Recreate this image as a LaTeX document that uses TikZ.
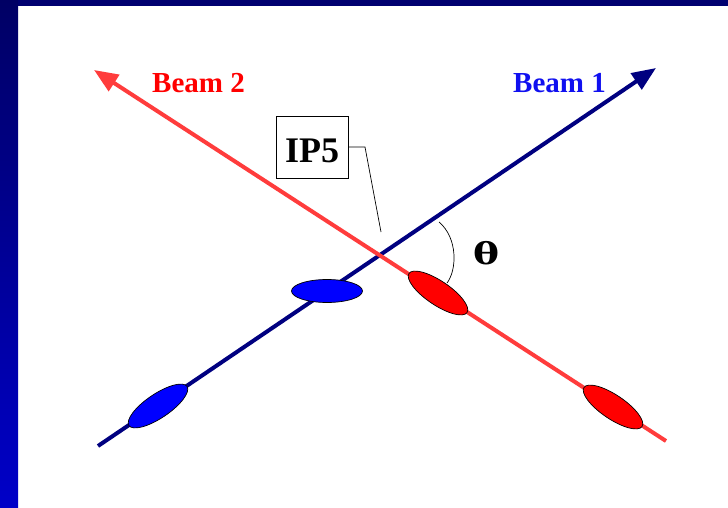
\documentclass[tikz,border=0pt]{standalone}
\usepackage{fontspec}
\setmainfont{Liberation Serif}
\newfontfamily\thetafont{DejaVu Serif}
\usetikzlibrary{shapes.geometric,arrows.meta}
\definecolor{navybeam}{RGB}{0,0,128}
\definecolor{redbeam}{RGB}{255,60,60}
\definecolor{barnavy}{RGB}{0,0,112}
\definecolor{bartop}{RGB}{0,0,100}
\definecolor{barbot}{RGB}{0,0,200}
\definecolor{bunchblue}{RGB}{0,0,255}
\definecolor{bunchred}{RGB}{255,0,0}
\definecolor{labelblue}{RGB}{16,16,240}
\tikzset{
  beamone/.style={navybeam, line width=4pt, -{Triangle[length=24pt,width=19pt]}},
  beamtwo/.style={redbeam, line width=4pt, -{Triangle[length=24pt,width=19pt]}},
  bunch/.style={ellipse, draw=black, line width=0.7pt, inner sep=0pt, minimum width=70pt, minimum height=24pt},
  beamlabel/.style={font=\fontsize{29}{29}\selectfont\bfseries, anchor=base, inner sep=0pt},
  thin line/.style={draw=black, line width=0.7pt}
}
\begin{document}
\begin{tikzpicture}[x=1pt,y=-1pt]
\useasboundingbox (0,0) rectangle (728,508);
\fill[white] (0,0) rectangle (728,508);
\fill[barnavy] (0,0) rectangle (728,6);
\shade[top color=bartop, bottom color=barbot] (0,0) rectangle (18,508);
% beams
\coordinate (b1s) at (98,446);
\coordinate (b1e) at (656,68);
\coordinate (b2s) at (666,441);
\coordinate (b2e) at (94,70);
\draw[beamone] (b1s) -- (b1e);
\draw[beamtwo] (b2s) -- (b2e);
% bunches
\node[bunch, fill=bunchblue, rotate=34] (bb1) at (158,406) {};
\node[bunch, fill=bunchblue, minimum width=71pt, minimum height=23pt] (bb2) at (327,291) {};
\node[bunch, fill=bunchred, rotate=-34] (rb1) at (438,293) {};
\node[bunch, fill=bunchred, rotate=-34] (rb2) at (613,407) {};
% labels
\node[beamlabel, text=bunchred] (l2) at (198.5,93) {Beam 2};
\node[beamlabel, text=labelblue] (l1) at (559.5,93) {Beam 1};
% IP5
\node[thin line, minimum width=72pt, minimum height=62pt, inner sep=0pt] (ip5) at (312,147) {};
\node[anchor=base, inner sep=0pt, font=\fontsize{36}{36}\selectfont\bfseries] (ip5t) at (312,162) {IP5};
\coordinate (k1) at (365,147);
\coordinate (k2) at (381,232);
\draw[thin line] (ip5.east) -- (k1) -- (k2);
% angle
\coordinate (a1) at (439,222);
\coordinate (a2) at (447,283);
\draw[thin line] (a1) .. controls (458,238) and (457,270) .. (a2);
\node[inner sep=0pt, xscale=1.3, font=\fontsize{30}{30}\thetafont\bfseries] (th) at (486,253.5) {θ};
\end{tikzpicture}
\end{document}
